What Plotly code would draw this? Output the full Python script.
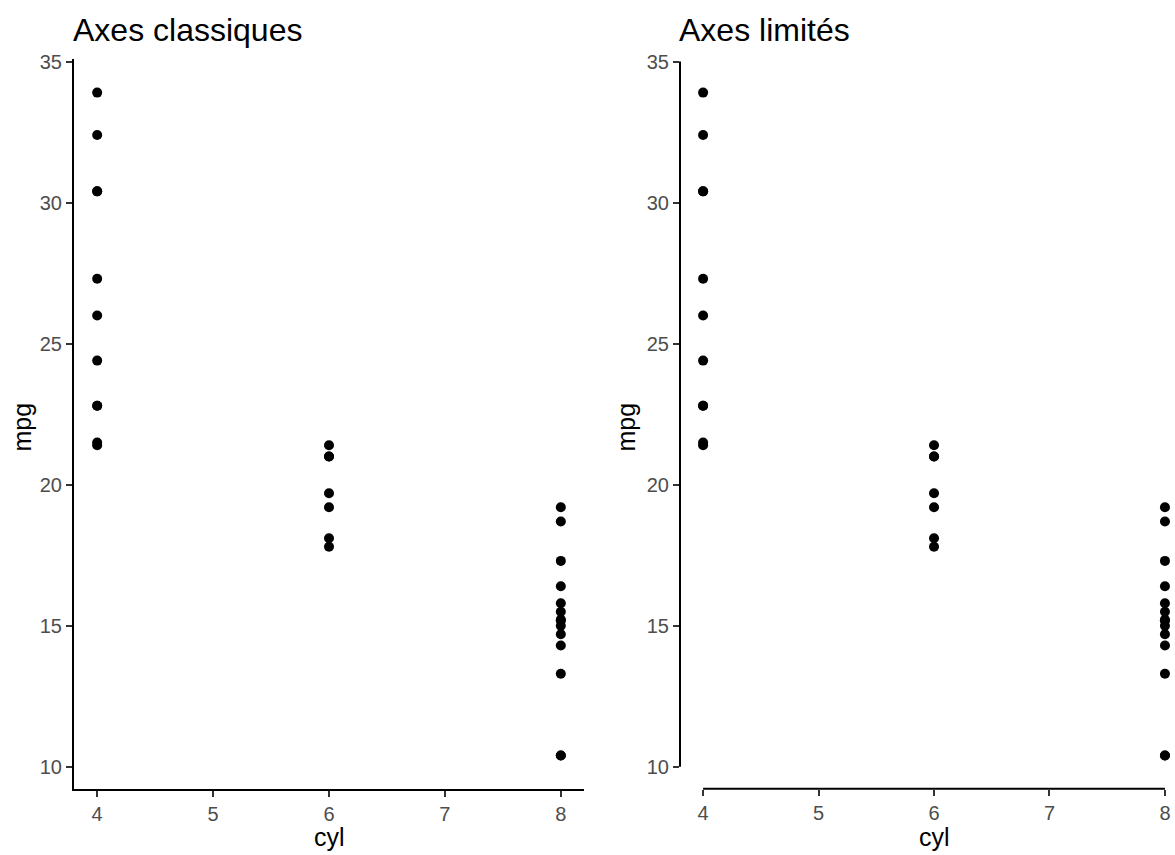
import plotly.graph_objects as go

cyl = [6, 6, 4, 6, 8, 6, 8, 4, 4, 6, 6, 8, 8, 8, 8, 8, 8, 4, 4, 4, 4, 8, 8, 8, 8, 4, 4, 4, 8, 6, 8, 4]
mpg = [21.0, 21.0, 22.8, 21.4, 18.7, 18.1, 14.3, 24.4, 22.8, 19.2, 17.8, 16.4, 17.3, 15.2, 10.4, 10.4,
       14.7, 32.4, 30.4, 33.9, 21.5, 15.5, 15.2, 13.3, 19.2, 27.3, 26.0, 30.4, 15.8, 19.7, 15.0, 21.4]
x_ticks = [4, 5, 6, 7, 8]
y_ticks = [10, 15, 20, 25, 30, 35]
titles = ["Axes classiques", "Axes limités"]

FONT = "Liberation Sans, Arial, sans-serif"
TICKC = "#4D4D4D"

fig = go.Figure()
for i in (1, 2):
    fig.add_trace(go.Scatter(x=cyl, y=mpg, mode="markers", cliponaxis=False,
                             marker=dict(color="black", size=10),
                             xaxis=f"x{i}" if i > 1 else "x", yaxis=f"y{i}" if i > 1 else "y",
                             showlegend=False, hoverinfo="skip"))

ydom = [1 - 788 / 855, 1 - 51 / 855]
yrange = [9.225, 35.075]
xdoms = [[74 / 1175, 584 / 1175], [680 / 1175, 1.0]]
xranges = [[3.8, 8.2], [3.8, 8.087]]

common_tick = dict(ticks="outside", ticklen=6, tickwidth=1.5, tickcolor="#333333",
                   tickfont=dict(family=FONT, size=20, color=TICKC),
                   showgrid=False, zeroline=False, fixedrange=True)

for i in (1, 2):
    xs = "" if i == 1 else "2"
    fig.update_layout(**{
        f"xaxis{xs}": dict(domain=xdoms[i - 1], range=xranges[i - 1], tickvals=x_ticks,
                           anchor=f"y{xs}", showline=(i == 1), linecolor="black", linewidth=2,
                           **common_tick),
        f"yaxis{xs}": dict(domain=ydom, range=yrange, tickvals=y_ticks,
                           anchor=f"x{xs}", showline=(i == 1), linecolor="black", linewidth=2,
                           **common_tick),
    })

# capped axis lines for the second panel
fig.add_shape(type="line", xref="x2 domain", yref="y2", x0=0, x1=0, y0=min(y_ticks), y1=max(y_ticks),
              line=dict(color="black", width=2))
fig.add_shape(type="line", xref="x2", yref="y2 domain", x0=min(x_ticks), x1=max(x_ticks), y0=0, y1=0,
              line=dict(color="black", width=2))

ann = []
for i, (tx, mx, cx) in enumerate([(71, 22, 329), (677, 626, 934)]):
    ann.append(dict(text=titles[i], xref="paper", yref="paper", x=tx / 1175, y=1 - 41 / 855,
                    xanchor="left", yanchor="bottom", showarrow=False,
                    font=dict(family=FONT, size=32, color="black")))
    ann.append(dict(text="mpg", xref="paper", yref="paper", x=mx / 1175, y=1 - 423 / 855,
                    xanchor="center", yanchor="middle", textangle=-90, showarrow=False,
                    font=dict(family=FONT, size=25, color="black")))
    ann.append(dict(text="cyl", xref="paper", yref="paper", x=cx / 1175, y=1 - 837 / 855,
                    xanchor="center", yanchor="middle", showarrow=False,
                    font=dict(family=FONT, size=25, color="black")))

fig.update_layout(width=1175, height=855, margin=dict(l=0, r=0, t=0, b=0),
                  paper_bgcolor="white", plot_bgcolor="white", annotations=ann,
                  font=dict(family=FONT))

fig.write_html("out.html", config={"displayModeBar": False},
               post_script="document.body.style.margin='0';document.body.style.overflow='hidden';"
                           "document.documentElement.style.overflow='hidden';")
